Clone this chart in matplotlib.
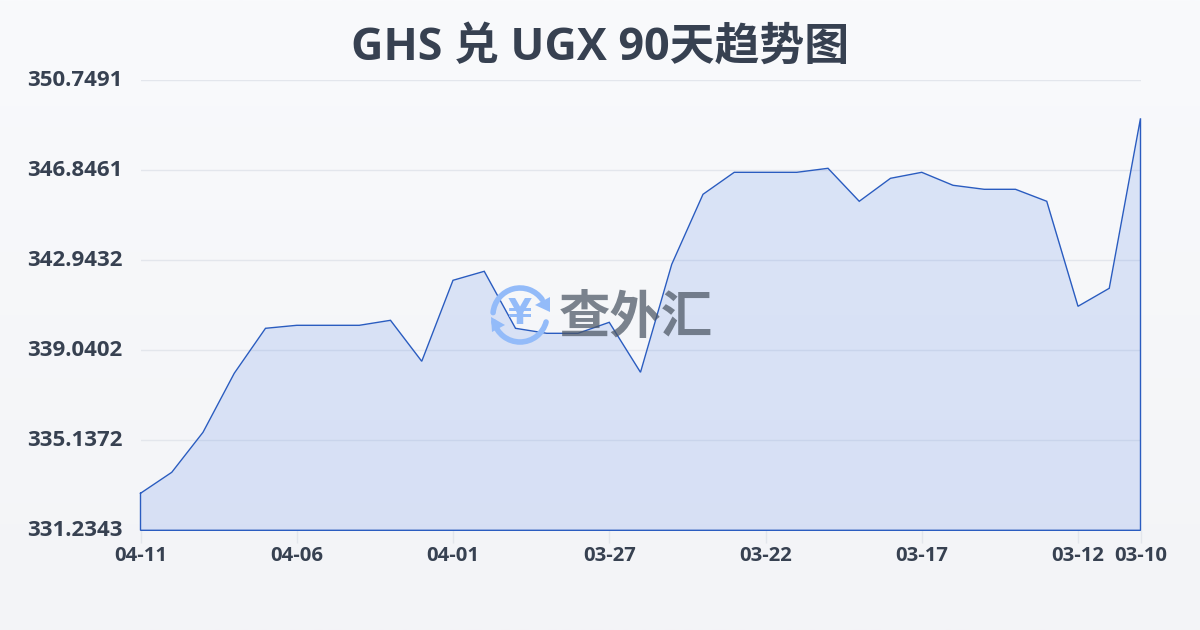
import matplotlib
matplotlib.use('Agg')
import matplotlib.pyplot as plt
import numpy as np
from matplotlib.patches import Arc, Polygon

plt.rcParams['font.family'] = ['Open Sans', 'Noto Sans CJK SC', 'DejaVu Sans']

title = 'GHS 兑 UGX 90天趋势图'
values = [332.839, 333.749, 335.484, 338.043, 339.994, 340.124, 340.124, 340.124,
          340.341, 338.563, 342.076, 342.466, 339.994, 339.777, 339.777, 340.254,
          338.086, 342.770, 345.805, 346.759, 346.759, 346.759, 346.933, 345.502,
          346.499, 346.759, 346.196, 346.022, 346.022, 345.502, 340.948, 341.729,
          349.101]
x_ticks = [0, 5, 10, 15, 20, 25, 30, 32]
x_labels = ['04-11', '04-06', '04-01', '03-27', '03-22', '03-17', '03-12', '03-10']
y_ticks = [331.2343, 335.1372, 339.0402, 342.9432, 346.8461, 350.7491]
y_labels = ['331.2343', '335.1372', '339.0402', '342.9432', '346.8461', '350.7491']

W, H = 1200, 630
text_color = '#374151'
line_color = '#2a5cc0'

fig = plt.figure(figsize=(W / 100, H / 100), dpi=100)

# background gradient
bg = fig.add_axes([0, 0, 1, 1], zorder=0)
bg.imshow(np.linspace(0, 1, 256).reshape(-1, 1), cmap=matplotlib.colors.LinearSegmentedColormap.from_list('bg', ['#f9fafc', '#f3f4f7']),
          aspect='auto', extent=[0, W, H, 0])
bg.set_xlim(0, W)
bg.set_ylim(H, 0)
bg.axis('off')

ax = fig.add_axes([140.5 / W, 1 - 530.3 / H, 1000 / W, 450 / H], zorder=2)
ax.patch.set_alpha(0)
xs = np.arange(len(values))
ax.set_xlim(0, 32)
ax.set_ylim(y_ticks[0], y_ticks[-1])
ax.fill_between(xs, values, y_ticks[0], color='#4277e6', alpha=0.16, lw=0, zorder=2)
ax.plot(list(xs) + [32, 0, 0], values + [y_ticks[0], y_ticks[0], values[0]], color=line_color, lw=1, zorder=5,
        solid_joinstyle='miter', clip_on=False)

for s in ax.spines.values():
    s.set_visible(False)
ax.grid(axis='y', color='#e3e6ec', lw=1)
ax.set_axisbelow(True)
ax.set_xticks(x_ticks)
ax.set_xticklabels(x_labels, fontsize=14.6, fontweight='bold', color=text_color)
ax.set_yticks(y_ticks)
ax.set_yticklabels(y_labels, fontsize=16, fontweight='bold', color=text_color)
ax.tick_params(axis='x', length=9, width=1, color='#e3e6ec', pad=2.5)
ax.tick_params(axis='y', length=0, pad=13)
for lab in ax.get_yticklabels():
    lab.set_verticalalignment('center')

# watermark, pixel coordinates
wm = fig.add_axes([0, 0, 1, 1], zorder=3)
wm.set_xlim(0, W)
wm.set_ylim(H, 0)
wm.axis('off')
blue = '#93bbf9'
wm.add_patch(Arc((520, 315), 54, 54, theta1=185, theta2=325, color=blue, lw=4, capstyle='round'))
wm.add_patch(Arc((520, 315), 54, 54, theta1=15, theta2=165, color=blue, lw=4, capstyle='round'))
wm.add_patch(Polygon([[550, 297], [550, 312], [535, 305]], color=blue, lw=0))
wm.add_patch(Polygon([[491, 317], [505, 325], [492, 332]], color=blue, lw=0))
wm.text(520, 314, '¥', fontsize=25, fontweight='bold', color=blue, ha='center', va='center', family='DejaVu Sans')
wm.text(636, 320, '查外汇', fontsize=37, fontweight='bold', color='#4b5563', alpha=0.72, ha='center', va='center')

fig.text(600 / W, 1 - 48 / H, title, fontsize=32.3, fontweight='bold', color=text_color, ha='center', va='center')

fig.savefig('out.png', dpi=100)
